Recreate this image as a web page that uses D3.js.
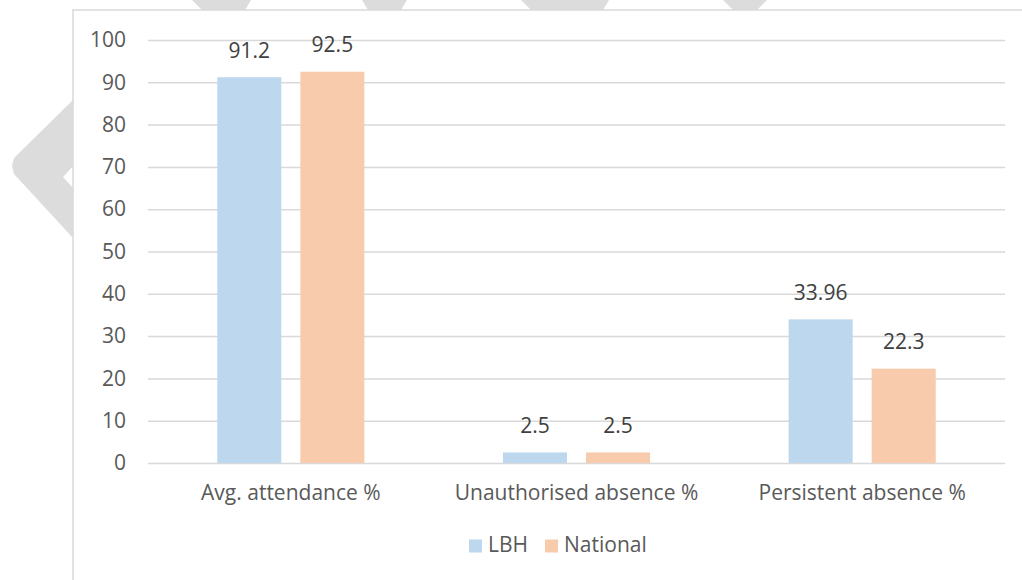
<!DOCTYPE html>
<html>
<head>
<meta charset="utf-8">
<script src="https://cdn.jsdelivr.net/npm/d3@7"></script>
<style>
  body { margin: 0; background: #fff; }
  svg { display: block; font-family: "Open Sans", sans-serif; }
</style>
</head>
<body>
<div id="chart"></div>
<script>
const categories = ["Avg. attendance %", "Unauthorised absence %", "Persistent absence %"]
const seriesNames = ["LBH", "National"]
const lbhValues = [91.2, 2.5, 33.96]
const nationalValues = [92.5, 2.5, 22.3]
const yTicks = [0, 10, 20, 30, 40, 50, 60, 70, 80, 90, 100]
const colours = ["#bdd7ee", "#f8cbad"]

const W = 1022, H = 580
const PLOT = { LEFT: 148, RIGHT: 1005, TOP: 40, BOTTOM: 463 }
const FONT = 21

const svg = d3.select("#chart").append("svg")
    .attr("width", W)
    .attr("height", H)

// faint watermark behind the chart frame
const mark = svg.append("g").attr("fill", "#dcdcdc")
const markShapes = [
    [[73,100],[14,158],[12,166],[14,174],[73,238],[73,188],[63,177],[73,166]],
    [[192,0],[251,0],[245,10],[202,10]],
    [[362,0],[407,0],[401,10],[368,10]],
    [[521,0],[609,0],[603,10],[531,10]],
    [[723,0],[767,0],[757,10],[733,10]]
]
markShapes.forEach(p => mark.append("polygon").attr("points", p.join(" ")))

// chart frame
svg.append("rect")
    .attr("x", 73).attr("y", 10)
    .attr("width", 1000).attr("height", 620)
    .attr("fill", "#fff")
    .attr("stroke", "#d9d9d9")
    .attr("stroke-width", 1.5)

const y = d3.scaleLinear()
    .domain([0, 100])
    .range([PLOT.BOTTOM, PLOT.TOP])

const x0 = d3.scaleBand()
    .domain(categories)
    .range([PLOT.LEFT, PLOT.RIGHT])

const groupW = x0.bandwidth() * 0.515
const x1 = d3.scaleBand()
    .domain(seriesNames)
    .range([(x0.bandwidth() - groupW) / 2, (x0.bandwidth() + groupW) / 2])
    .paddingInner(0.229)

// gridlines + y labels
const yAxis = d3.axisLeft(y)
    .tickValues(yTicks)
    .tickSize(-(PLOT.RIGHT - PLOT.LEFT))
    .tickPadding(22)

const yg = svg.append("g")
    .attr("transform", `translate(${PLOT.LEFT},0)`)
    .call(yAxis)
yg.attr("font-family", null)
yg.select(".domain").remove()
yg.selectAll(".tick line").attr("stroke", "#d9d9d9").attr("stroke-width", 1.5)
yg.selectAll(".tick text").attr("fill", "#595959").attr("font-size", FONT)

// bars
const rows = categories.map((c, i) => ({ cat: c, values: [lbhValues[i], nationalValues[i]] }))

const groups = svg.selectAll("g.grp")
    .data(rows)
    .enter().append("g")
    .attr("class", "grp")
    .attr("transform", d => `translate(${x0(d.cat)},0)`)

groups.selectAll("rect")
    .data(d => d.values.map((v, j) => ({ name: seriesNames[j], v: v, j: j })))
    .enter().append("rect")
    .attr("x", d => x1(d.name))
    .attr("y", d => y(d.v))
    .attr("width", x1.bandwidth())
    .attr("height", d => y(0) - y(d.v))
    .attr("fill", d => colours[d.j])

groups.selectAll("text")
    .data(d => d.values.map((v, j) => ({ name: seriesNames[j], v: v })))
    .enter().append("text")
    .attr("x", d => x1(d.name) + x1.bandwidth() / 2)
    .attr("y", d => y(d.v) - 25)
    .attr("text-anchor", "middle")
    .attr("dominant-baseline", "middle")
    .attr("fill", "#404040")
    .attr("font-size", FONT)
    .text(d => d.v)

// category labels
const xAxis = d3.axisBottom(x0).tickSize(0)
const xg = svg.append("g")
    .attr("transform", `translate(0,${PLOT.BOTTOM})`)
    .call(xAxis)
xg.attr("font-family", null)
xg.select(".domain").remove()
xg.selectAll(".tick text")
    .attr("y", 30)
    .attr("dy", "0.35em")
    .attr("fill", "#595959")
    .attr("font-size", FONT)

// legend
const legend = svg.append("g").attr("transform", "translate(469,546)")
const legendX = [0, 76]
seriesNames.forEach((s, i) => {
    legend.append("rect")
        .attr("x", legendX[i]).attr("y", -6.5)
        .attr("width", 13).attr("height", 13)
        .attr("fill", colours[i])
    legend.append("text")
        .attr("x", legendX[i] + 19).attr("y", 0)
        .attr("dominant-baseline", "middle")
        .attr("fill", "#595959")
        .attr("font-size", FONT)
        .text(s)
})
</script>
</body>
</html>
